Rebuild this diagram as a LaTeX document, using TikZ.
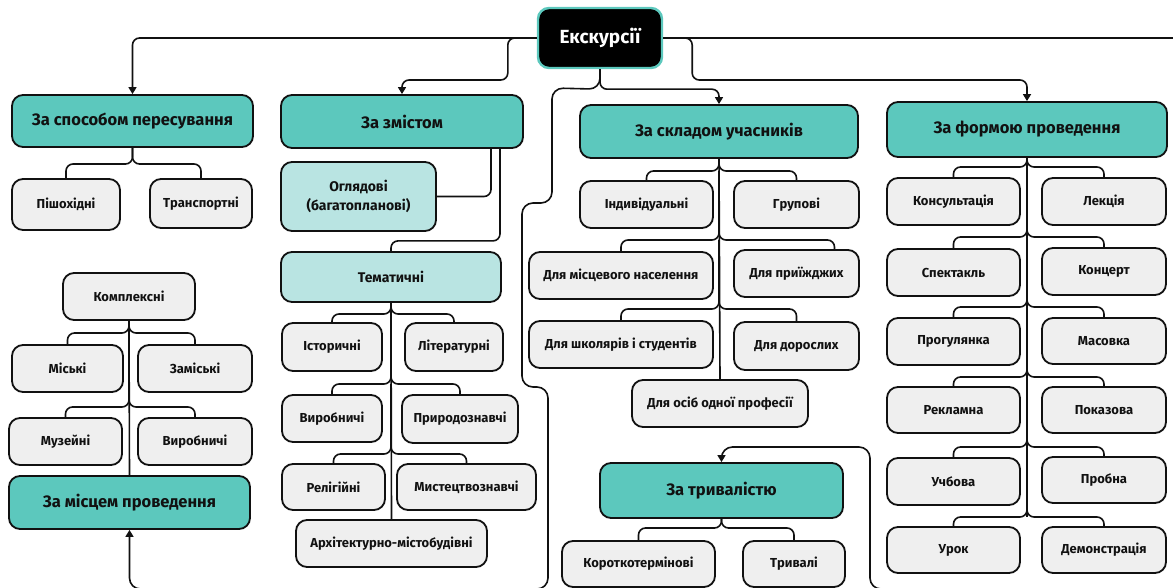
\documentclass[tikz,border=0pt]{standalone}
\usepackage{fontspec}
\setmainfont{Fira Sans}
\usetikzlibrary{arrows.meta,calc}
\definecolor{tealc}{HTML}{5CC8BD}
\definecolor{lightc}{HTML}{B9E4E2}
\definecolor{grayc}{HTML}{EFEFEF}
\definecolor{linec}{HTML}{111111}
\newcommand{\BX}[7]{\node[#2,minimum width={#5-#3},minimum height={#6-#4}] (#1) at ({(#3+#5)/2},{(#4+#6)/2}) {#7};}
\newcommand{\BR}[4]{\draw[conn] (#1) -- (#2) -| (#3); \draw[conn] (#1) -- (#2) -| (#4);}
\begin{document}
\begin{tikzpicture}[x=1pt,y=-1pt,
 box/.style={draw=linec,line width=1.8pt,rounded corners=11pt,inner sep=0pt,align=center,text=linec,font=\bfseries\fontsize{13}{15}\selectfont},
 leaf/.style={box,fill=grayc},
 cat/.style={box,fill=tealc,font=\bfseries\fontsize{16.5}{19}\selectfont},
 sub/.style={box,fill=lightc,font=\bfseries\fontsize{14}{19}\selectfont},
 rootbox/.style={box,fill=black,draw=tealc,line width=2.4pt,text=white,font=\bfseries\fontsize{19}{22}\selectfont},
 conn/.style={draw=linec,line width=1.6pt,rounded corners=7pt},
 arr/.style={conn,-{Triangle[length=7pt,width=8pt]}}]
\useasboundingbox (0,0) rectangle (1173,588);
\clip (0,0) rectangle (1173,588);
% nodes
\BX{root}{rootbox}{538}{8}{662}{68}{Екскурсії}
\BX{sposob}{cat}{12}{95}{253}{147}{За способом пересування}
\BX{zmist}{cat}{281}{95}{523}{148}{За змістом}
\BX{sklad}{cat}{580}{105}{858}{158}{За складом учасників}
\BX{forma}{cat}{887}{102}{1167}{157}{За формою проведення}
\BX{pish}{leaf}{12}{179}{120}{230}{Пішохідні}
\BX{trans}{leaf}{150}{179}{252}{228}{Транспортні}
\BX{kompl}{leaf}{63}{273}{195}{320}{Комплексні}
\BX{misk}{leaf}{12}{345}{123}{392}{Міські}
\BX{zamisk}{leaf}{138}{345}{252}{392}{Заміські}
\BX{muz}{leaf}{9}{418}{122}{465}{Музейні}
\BX{vyrobL}{leaf}{138}{418}{252}{465}{Виробничі}
\BX{mesce}{cat}{9}{476}{250}{529}{За місцем проведення}
\BX{oglyad}{sub}{281}{162}{436}{231}{Оглядові\\(багатопланові)}
\BX{temat}{sub}{281}{252}{501}{302}{Тематичні}
\BX{ist}{leaf}{282}{323}{382}{371}{Історичні}
\BX{lit}{leaf}{405}{323}{503}{371}{Літературні}
\BX{vyrobT}{leaf}{282}{395}{382}{442}{Виробничі}
\BX{pryr}{leaf}{402}{395}{518}{443}{Природознавчі}
\BX{relig}{leaf}{282}{464}{385}{510}{Релігійні}
\BX{myst}{leaf}{397}{464}{536}{510}{Мистецтвознавчі}
\BX{arch}{leaf}{296}{520}{487}{567}{Архітектурно-містобудівні}
\BX{indiv}{leaf}{580}{181}{713}{228}{Індивідуальні}
\BX{grup}{leaf}{734}{181}{859}{228}{Групові}
\BX{mist}{leaf}{529}{252}{713}{299}{Для місцевого населення}
\BX{pryizh}{leaf}{734}{250}{859}{297}{Для приїжджих}
\BX{shk}{leaf}{529}{321}{713}{368}{Для школярів і студентів}
\BX{dor}{leaf}{734}{322}{859}{370}{Для дорослих}
\BX{osib}{leaf}{632}{380}{808}{427}{Для осіб одної професії}
\BX{tryv}{cat}{600}{463}{843}{518}{За тривалістю}
\BX{korot}{leaf}{562}{541}{715}{587}{Короткотермінові}
\BX{tryvali}{leaf}{743}{541}{845}{587}{Тривалі}
\BX{kons}{leaf}{887}{178}{1020}{225}{Консультація}
\BX{lek}{leaf}{1042}{178}{1166}{225}{Лекція}
\BX{spek}{leaf}{887}{249}{1020}{296}{Спектакль}
\BX{konc}{leaf}{1042}{248}{1166}{295}{Концерт}
\BX{prog}{leaf}{887}{318}{1020}{365}{Прогулянка}
\BX{mas}{leaf}{1042}{318}{1166}{364}{Масовка}
\BX{rekl}{leaf}{887}{387}{1020}{433}{Рекламна}
\BX{pokaz}{leaf}{1042}{387}{1166}{433}{Показова}
\BX{uchb}{leaf}{887}{458}{1020}{505}{Учбова}
\BX{prob}{leaf}{1042}{457}{1166}{503}{Пробна}
\BX{urok}{leaf}{887}{527}{1020}{573}{Урок}
\BX{demo}{leaf}{1042}{527}{1166}{573}{Демонстрація}
% connectors from root
\draw[arr] (root.west) -| (sposob.north);
\draw[arr] (root.west) -- ([xshift=-29pt]root.west) -- ++(0,42) -| (zmist.north);
\coordinate (rb) at ($(root.south)+(0,20)$);
\draw[arr] (root.south) -- (rb) -| (sklad.north);
\draw[arr,rounded corners=11pt] (root.south) -- (rb) -- (552,88) -- (552,203) -- (522,203) -- (522,387) -- (548,387) -- (548,589) -- (mesce.south |- 0,589) -- (mesce.south);
\draw[arr] (root.east) -- ([xshift=29pt]root.east) -- ++(0,42) -| (forma.north);
\draw[arr,rounded corners=11pt] (root.east) -- (1200,38) -- (1200,589) -- (870,589) -- (870,447) -| (tryv.north);
% sposob
\coordinate (sj) at (sposob.south |- 0,164);
\BR{sposob.south}{sj}{pish.north}{trans.north}
% kompl / mesce
\draw[conn] (kompl.south) -- (mesce.north);
\coordinate (k1) at (kompl.south |- 0,333);
\coordinate (k2) at (kompl.south |- 0,407);
\BR{kompl.south}{k1}{misk.north}{zamisk.north}
\BR{k1}{k2}{muz.north}{vyrobL.north}
% zmist
\draw[conn] ([xshift=89pt]zmist.south) |- (oglyad.east);
\draw[conn] ([xshift=98pt]zmist.south) -- ++(0,92) -| (temat.north);
% temat
\draw[conn] (temat.south) -- (arch.north);
\coordinate (t1) at (temat.south |- 0,314);
\coordinate (t2) at (temat.south |- 0,384);
\coordinate (t3) at (temat.south |- 0,454);
\BR{temat.south}{t1}{ist.north}{lit.north}
\BR{t1}{t2}{vyrobT.north}{pryr.north}
\BR{t2}{t3}{relig.north}{myst.north}
% sklad
\draw[conn] (sklad.south) -- (osib.north);
\coordinate (s1) at (sklad.south |- 0,171);
\coordinate (s2) at (sklad.south |- 0,240);
\coordinate (s3) at (sklad.south |- 0,309);
\BR{sklad.south}{s1}{indiv.north}{grup.north}
\BR{s1}{s2}{mist.north}{[xshift=38pt]pryizh.north}
\BR{s2}{s3}{shk.north}{dor.north}
% tryv
\coordinate (tj) at (tryv.south |- 0,528);
\BR{tryv.south}{tj}{korot.north}{tryvali.north}
% forma
\coordinate (f1) at (forma.south |- 0,167);
\coordinate (f2) at (forma.south |- 0,237);
\coordinate (f3) at (forma.south |- 0,307);
\coordinate (f4) at (forma.south |- 0,377);
\coordinate (f5) at (forma.south |- 0,447);
\coordinate (f6) at (forma.south |- 0,517);
\draw[conn] (forma.south) -- (f6);
\BR{forma.south}{f1}{kons.north}{lek.north}
\BR{f1}{f2}{spek.north}{konc.north}
\BR{f2}{f3}{prog.north}{mas.north}
\BR{f3}{f4}{rekl.north}{pokaz.north}
\BR{f4}{f5}{uchb.north}{prob.north}
\BR{f5}{f6}{urok.north}{demo.north}
\end{tikzpicture}
\end{document}
